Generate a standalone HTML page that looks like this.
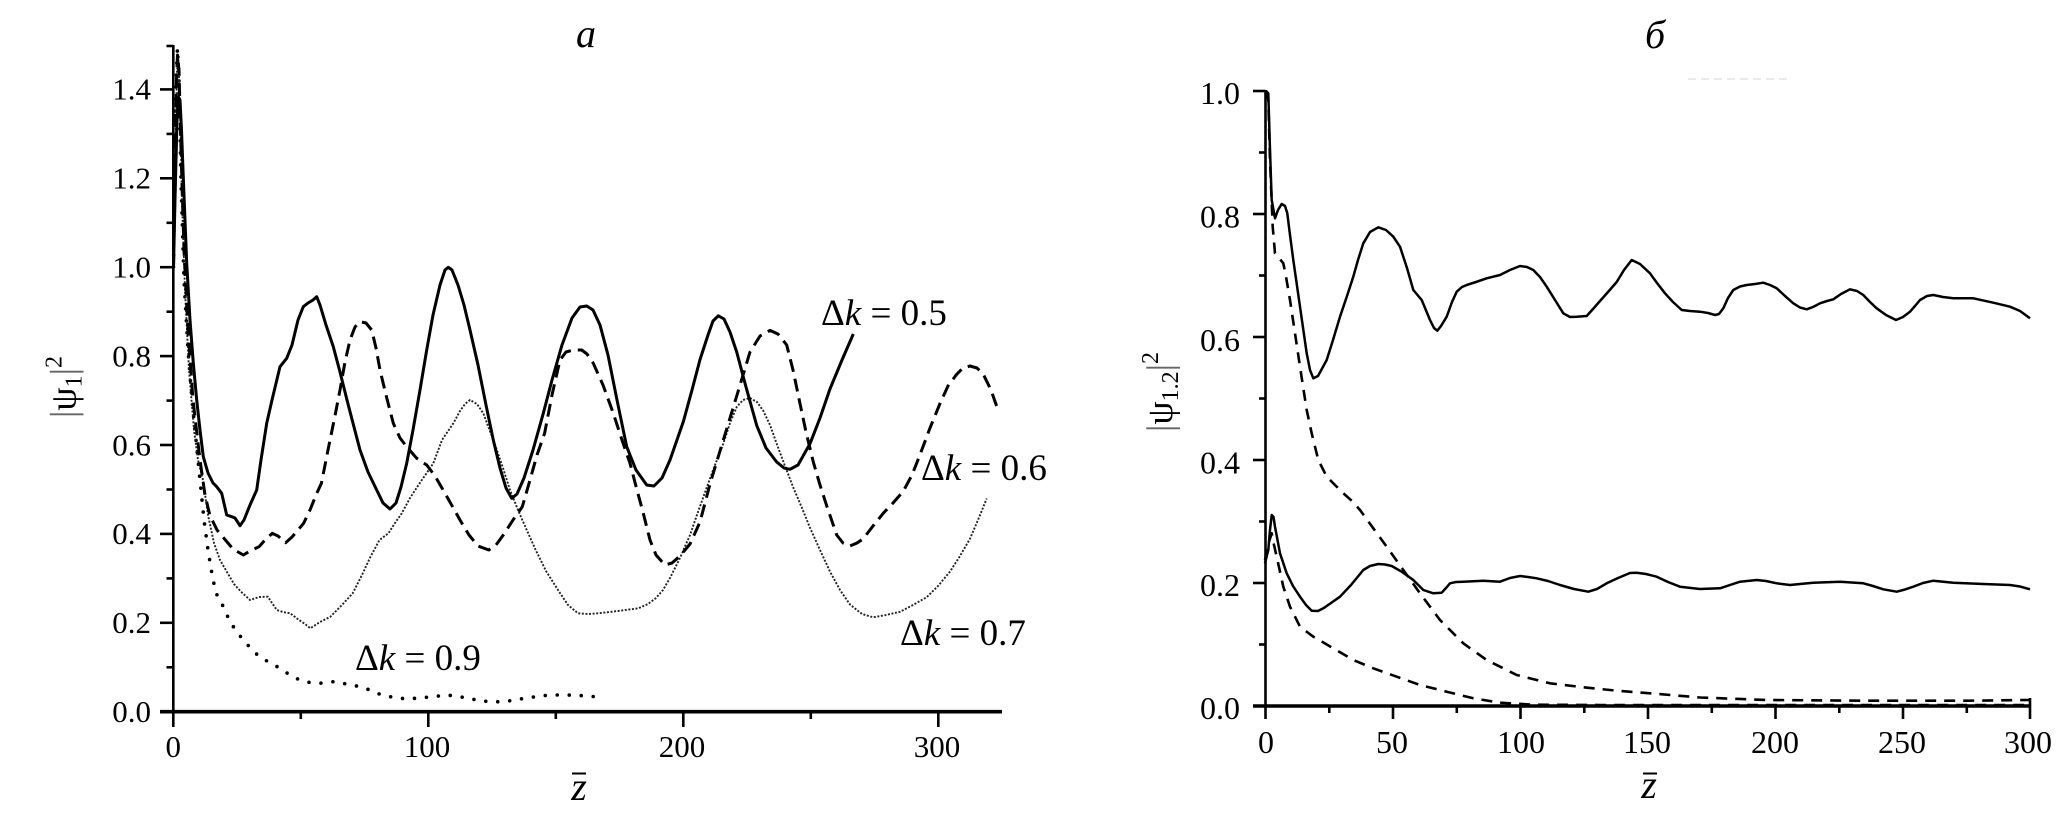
<!DOCTYPE html>
<html>
<head>
<meta charset="utf-8">
<style>
  html, body { margin:0; padding:0; background:#fff; }
  body { width:2068px; height:823px; overflow:hidden; }
  svg { display:block; }
  text { font-family: "Liberation Serif", "DejaVu Serif", serif; fill:#000; }
</style>
</head>
<body>
<svg width="2068" height="823" viewBox="0 0 2068 823" xmlns="http://www.w3.org/2000/svg">
  <rect x="0" y="0" width="2068" height="823" fill="#fff"/>

  <!-- ================= PANEL A ================= -->
  <text x="586" y="47" font-size="40" font-style="italic" text-anchor="middle">а</text>

  <!-- axes -->
  <line x1="173.3" y1="45" x2="173.3" y2="713" stroke="#000" stroke-width="2.6"/>
  <line x1="160" y1="711.7" x2="1002" y2="711.7" stroke="#000" stroke-width="3.6"/>

  <!-- y ticks major -->
  <g stroke="#000" stroke-width="2.6">
    <line x1="160" y1="622.8" x2="173.3" y2="622.8"/>
    <line x1="160" y1="533.9" x2="173.3" y2="533.9"/>
    <line x1="160" y1="445" x2="173.3" y2="445"/>
    <line x1="160" y1="356.1" x2="173.3" y2="356.1"/>
    <line x1="160" y1="267.2" x2="173.3" y2="267.2"/>
    <line x1="160" y1="178.3" x2="173.3" y2="178.3"/>
    <line x1="160" y1="89.4" x2="173.3" y2="89.4"/>
    <!-- minor -->
    <line x1="166.5" y1="667.3" x2="173.3" y2="667.3"/>
    <line x1="166.5" y1="578.4" x2="173.3" y2="578.4"/>
    <line x1="166.5" y1="489.5" x2="173.3" y2="489.5"/>
    <line x1="166.5" y1="400.6" x2="173.3" y2="400.6"/>
    <line x1="166.5" y1="311.7" x2="173.3" y2="311.7"/>
    <line x1="166.5" y1="222.8" x2="173.3" y2="222.8"/>
    <line x1="166.5" y1="133.9" x2="173.3" y2="133.9"/>
    <line x1="166.5" y1="46" x2="173.3" y2="46"/>
    <!-- x ticks -->
    <line x1="173.3" y1="711" x2="173.3" y2="727"/>
    <line x1="428.3" y1="711" x2="428.3" y2="727"/>
    <line x1="683.3" y1="711" x2="683.3" y2="727"/>
    <line x1="938.3" y1="711" x2="938.3" y2="727"/>
    <line x1="300.8" y1="711" x2="300.8" y2="719"/>
    <line x1="555.8" y1="711" x2="555.8" y2="719"/>
    <line x1="810.8" y1="711" x2="810.8" y2="719"/>
  </g>

  <!-- y tick labels -->
  <g font-size="31" text-anchor="end">
    <text x="151" y="722">0.0</text>
    <text x="151" y="633">0.2</text>
    <text x="151" y="544">0.4</text>
    <text x="151" y="455.5">0.6</text>
    <text x="151" y="366.5">0.8</text>
    <text x="151" y="277.5">1.0</text>
    <text x="151" y="188.5">1.2</text>
    <text x="151" y="99.5">1.4</text>
  </g>
  <!-- x tick labels -->
  <g font-size="31" text-anchor="middle">
    <text x="173.3" y="757">0</text>
    <text x="427" y="757">100</text>
    <text x="682" y="757">200</text>
    <text x="937" y="757">300</text>
  </g>

  <!-- axis titles -->
  <text transform="translate(75.5,387) rotate(-90)" font-size="37" text-anchor="middle"><tspan fill="#666">|</tspan>ψ<tspan font-size="24" dy="6">1</tspan><tspan fill="#666" dy="-6">|</tspan><tspan font-size="24" dy="-14">2</tspan></text>
  <text x="579" y="800" font-size="40" font-style="italic" text-anchor="middle">z</text>
  <line x1="572" y1="773.5" x2="586" y2="773.5" stroke="#000" stroke-width="2"/>

  <!-- annotations -->
  <g font-size="37">
    <text x="821" y="325">Δ<tspan font-style="italic">k</tspan> = 0.5</text>
    <text x="921" y="480">Δ<tspan font-style="italic">k</tspan> = 0.6</text>
    <text x="900" y="645">Δ<tspan font-style="italic">k</tspan> = 0.7</text>
    <text x="355" y="670">Δ<tspan font-style="italic">k</tspan> = 0.9</text>
  </g>

  <!-- Δk = 0.9 (dotted, large dots) -->
  <polyline fill="none" stroke="#000" stroke-width="3.6" stroke-linecap="round" stroke-dasharray="0 12"
    points="173.5,267 175,160 176.5,70 177.5,48 179,80 181,180 184,280 188,350 192,400 196,440 200,480 204,520 208,550 213,580 217,595 221.7,603.3 230,621.7 236.7,631.7 243.3,640 251.7,649.3 260,657.3 268.3,661.7 280,668.3 290,675 298.3,679.3 308.3,682.3 320,683.3 333.3,681.7 348.3,684.3 360,686.7 370,690 381.7,695 393.3,697.3 406.7,699 421.7,697.7 433.3,696.7 446.7,695 460,696.7 473.3,699.3 488.3,701.7 504.5,701.7 520,699 535.7,696.7 550,695 567,695 580,695.5 596,696.7"/>

  <!-- Δk = 0.7 (fine dotted) -->
  <polyline fill="none" stroke="#222" stroke-width="1.9" stroke-dasharray="2 1.6" stroke-linejoin="round"
    points="173.5,267 175.5,150 177,70 178.5,60 180,110 182,200 185,290 189,370 194,430 198,460 203,480 208,515 214,543 220,560 227.7,573.3 234,584 241,591.7 250,600 259,597 267.9,596.7 272,603 276.8,610 283,612 290.2,613.3 299,620 305,624 310.3,628.3 320,622 330.4,616.7 341,606 352.7,593.3 362,575 370.5,556.7 379.5,540 388.4,533.3 395,523 401.8,513.3 410,498 419.6,483.3 433.3,463.3 442,440 453.3,423.3 460,411 465,404 470,400 477,404 483.3,413.3 493.3,440 502,465 510,490 518,510 526.7,530 535.7,550 546,571 558,590 568,605 578,613.3 588,614 598.2,613.3 618,611 638.4,608.3 648,604 656,598 663,590 670,578 680,558 690,535 698,512 706.7,487.6 715,465 723.3,443.7 730,423 736.7,407 743,400 750,398 757,402 763.3,410.8 770,425 776.7,443.7 785,466 793.3,487.6 802,508 810,527.8 820,550 830,571.6 840,590 850,604.5 862,614 873.3,617.3 886,615 900,611.8 913,605 926.7,597.2 938,586 950,571.6 960,556 970,538.7 978,520 986.7,498.5"/>

  <!-- Δk = 0.6 (dashed) -->
  <polyline fill="none" stroke="#000" stroke-width="3" stroke-dasharray="13 7" stroke-linejoin="round"
    points="173.5,267 175,180 176.5,80 177.5,55 179,70 181,150 184,250 188,330 193,400 200,460 205,495 209.8,515 217,530 225.4,540 233,549 243.3,555 250,551 259,546.7 265,540 272.3,533.3 278,536 285.7,542.7 292,537 298,530 303.6,523.3 310,510 316,495 321.4,483.3 328,450 334.8,416.7 340,390 345,362 350,340 355,327 360,321.7 366,323 371.7,330 376,348 380,370 386,395 393.3,423.3 400,438 406.7,446.7 416.7,458.3 426.7,465 435,476 446,495 460,520 469,535 478,546 488.8,550 496,545 504.5,533.3 513,520 522.3,506.7 530,480 537,455 544.6,433.3 552,395 560,360 566,352 573.3,350 581.7,350 587,354 593.3,363.3 603,385 613.3,413.3 622,440 630,463.3 637,490 643.3,513.3 650,540 656,555 665,565 672,563 680,556 690,544 700,522 710,484 720,451 736.7,396 750,352 760,336 770,330.4 778,334 786.7,345 793,370 800,403.5 806,432 813.3,462 820,485 826.7,505.8 836.7,535 843,543 850,546 857,543 863.3,538.7 873,526 883.3,513.2 893,503 903.3,491.2 912,475 920,454.7 930,428 940,403.5 948,386 956.7,374.3 963,368 970,366 977,368 983.3,374.3 991,390 998.3,410.8"/>

  <!-- Δk = 0.5 (solid) -->
  <polyline fill="none" stroke="#000" stroke-width="3" stroke-linejoin="round"
    points="173.5,267 175,200 177,120 178.5,97 180,100 181.5,130 183,170 186.7,263 190,320 193.3,363 196.7,400 200,430 203.3,456.7 208,473 213,483 216.7,486.7 221.7,493.3 226.7,515 231.7,516.7 235,518 240,525.7 244,520 250,505 256.7,490 261,460 266.7,423.3 272,400 280,366.7 286.7,358.3 292,345 298,320 303.3,306.7 308,303 313,300 316.7,296.7 320,305 326,325 333.3,346.7 340,372 347,400 354,427 360,450 368,472 376.7,490 383,503 390,509 396,503 401,487 406.7,463.3 413,430 420,390 426.7,350 433,315 440,285 445,270 448.3,267.3 452,270 458,285 464,305 470,330 478,365 486,405 493.3,440 500,468 506,488 511.7,498.3 517,494 524,478 533,450 543.3,413.3 552,380 562,345 572,318 580,307 586.7,306 593,310 600,325 608,355 617,400 626.7,446.7 636,470 646.7,485 654,486 662,478 670,460 683.3,421.8 692,390 700,359.6 708,335 713,321 718.3,315.8 724,319 730,332 736.7,352 746,387 756.7,425.4 766,448 776.7,462 784,468 790,469.3 798,465 810,443.7 820,418 830,388.9 842,360 853.3,334"/>

  <!-- ================= PANEL B ================= -->
  <text x="1655" y="48" font-size="40" font-style="italic" text-anchor="middle">б</text>
  <line x1="1688" y1="79" x2="1788" y2="79" stroke="#e4e4e4" stroke-width="1.5" stroke-dasharray="8 5"/>

  <!-- axes -->
  <line x1="1265.5" y1="90" x2="1265.5" y2="708" stroke="#000" stroke-width="2.6"/>
  <line x1="1253" y1="706" x2="2031" y2="706" stroke="#000" stroke-width="3.6"/>

  <g stroke="#000" stroke-width="2.6">
    <!-- y major -->
    <line x1="1253" y1="91" x2="1265.5" y2="91"/>
    <line x1="1253" y1="214" x2="1265.5" y2="214"/>
    <line x1="1253" y1="337" x2="1265.5" y2="337"/>
    <line x1="1253" y1="460" x2="1265.5" y2="460"/>
    <line x1="1253" y1="583" x2="1265.5" y2="583"/>
    <!-- y minor -->
    <line x1="1259" y1="152.5" x2="1265.5" y2="152.5"/>
    <line x1="1259" y1="275.5" x2="1265.5" y2="275.5"/>
    <line x1="1259" y1="398.5" x2="1265.5" y2="398.5"/>
    <line x1="1259" y1="521.5" x2="1265.5" y2="521.5"/>
    <line x1="1259" y1="644.5" x2="1265.5" y2="644.5"/>
    <!-- x major -->
    <line x1="1265.5" y1="705" x2="1265.5" y2="719"/>
    <line x1="1393" y1="705" x2="1393" y2="719"/>
    <line x1="1520.5" y1="705" x2="1520.5" y2="719"/>
    <line x1="1648" y1="705" x2="1648" y2="719"/>
    <line x1="1775.5" y1="705" x2="1775.5" y2="719"/>
    <line x1="1903" y1="705" x2="1903" y2="719"/>
    <line x1="2030" y1="698" x2="2030" y2="719"/>
    <!-- x minor -->
    <line x1="1329.3" y1="705" x2="1329.3" y2="713"/>
    <line x1="1456.8" y1="705" x2="1456.8" y2="713"/>
    <line x1="1584.3" y1="705" x2="1584.3" y2="713"/>
    <line x1="1711.8" y1="705" x2="1711.8" y2="713"/>
    <line x1="1839.3" y1="705" x2="1839.3" y2="713"/>
    <line x1="1966.8" y1="705" x2="1966.8" y2="713"/>
  </g>

  <g font-size="32" text-anchor="end">
    <text x="1240" y="719">0.0</text>
    <text x="1240" y="596">0.2</text>
    <text x="1240" y="473.5">0.4</text>
    <text x="1240" y="351">0.6</text>
    <text x="1240" y="227.5">0.8</text>
    <text x="1240" y="104">1.0</text>
  </g>
  <g font-size="32" text-anchor="middle">
    <text x="1266" y="753">0</text>
    <text x="1392" y="753">50</text>
    <text x="1521" y="753">100</text>
    <text x="1647" y="753">150</text>
    <text x="1775" y="753">200</text>
    <text x="1902" y="753">250</text>
    <text x="2028" y="753">300</text>
  </g>

  <text transform="translate(1172,392) rotate(-90)" font-size="37" text-anchor="middle"><tspan fill="#666">|</tspan>ψ<tspan font-size="24" dy="6">1.2</tspan><tspan fill="#666" dy="-6">|</tspan><tspan font-size="24" dy="-14">2</tspan></text>
  <text x="1649" y="798" font-size="40" font-style="italic" text-anchor="middle">z</text>
  <line x1="1643" y1="773.5" x2="1657" y2="773.5" stroke="#000" stroke-width="2"/>

  <!-- lower dashed -->
  <polyline fill="none" stroke="#000" stroke-width="2.6" stroke-dasharray="11 8" stroke-linejoin="round"
    points="1265,560 1268,545 1271.7,533.3 1274,545 1276.7,556.7 1283.3,586.7 1290,606.7 1300,626.7 1313.3,636.7 1333.3,648.3 1353.3,660 1373.3,668.3 1396.7,676.7 1420,685 1446.7,691.7 1473.3,698.3 1500,702.7 1533.3,704.7 1600,705 2030,705"/>

  <!-- upper dashed -->
  <polyline fill="none" stroke="#000" stroke-width="2.6" stroke-dasharray="11 8" stroke-linejoin="round"
    points="1266,91 1268.3,100 1270,160 1272.7,226.7 1275,253.3 1279,258 1283.3,263.3 1286,276.7 1290,300 1295,333.3 1300,366.7 1306.7,410 1311.7,433.3 1318.3,460 1326.7,476.7 1335,485 1343.3,493.3 1352,501 1360,510 1373.3,528.3 1386.7,546.7 1403.3,570 1420,593.3 1440,620 1463.3,643.3 1486.7,660 1516.7,675 1550,683.3 1583.3,687.3 1616.7,690.7 1650,693.3 1700,697.5 1766.7,700 1866.7,700.7 1966.7,700.7 2030,700"/>

  <!-- lower solid -->
  <polyline fill="none" stroke="#000" stroke-width="2.5" stroke-linejoin="round"
    points="1265,563.3 1268.3,550 1270,530 1271.7,515 1273.5,517 1275,526.7 1280,553.3 1286.7,573.3 1293,586 1300,596.7 1306,605 1311.7,610.7 1318,611 1323.3,608.3 1331,603 1340,596.7 1351,585 1363.3,570 1370,566 1378.3,564 1385,564.5 1391.7,566 1401.7,571.7 1413.3,580 1423.3,590 1433.3,593.3 1441.7,592.7 1446,588 1450,583.3 1456,582 1463.3,581.7 1483.3,580.7 1500,581.7 1510,578 1520,576 1528,577 1536.7,578.3 1548,581 1560,585 1574,589 1588.3,591.7 1597,589 1606.7,583.3 1618,578 1630,573 1636.7,572.7 1646,574 1656.7,576.7 1668,582 1680,586.7 1700,589 1720,588.3 1730,585 1740,581.7 1756.7,580 1766,581 1776.7,583.3 1790,585 1800,584 1813.3,582.7 1840,581.7 1863.3,583.3 1873,586 1883.3,589.3 1896.7,591.7 1905,589.5 1913.3,586.7 1923,583 1933.3,580.7 1953.3,582.7 1983.3,584 2010,585 2020,586.5 2030,589.3"/>

  <!-- upper solid -->
  <polyline fill="none" stroke="#000" stroke-width="2.5" stroke-linejoin="round"
    points="1266,91 1268.3,93.3 1270,150 1271.7,200 1275,218.3 1278,210 1281.7,204 1285,206 1287.3,213.3 1290,235 1293.3,260 1300,306.7 1306.7,353.3 1310,370 1313.3,378.3 1318,376 1326.7,360 1333,340 1340,316.7 1347,296 1353.3,276.7 1358,260 1363.3,243.3 1370,232 1378.3,227.3 1386,230 1393.3,236.7 1400,246.7 1407,268 1413.3,290 1421.7,300 1430,320 1434,328 1437.3,330.7 1441,326 1446.7,316.7 1452,302 1456.7,291.7 1462,287 1466.7,285 1476,282 1486.7,278.3 1500,275 1510,270 1520,266 1527,267 1533.3,270 1540,277 1546.7,286.7 1555,300 1563.3,313.3 1570,317 1576.7,316.7 1586.7,316 1593,309 1600,301 1608,292 1616.7,282 1624,270 1631.7,260 1640,264 1650,273.3 1657,283 1665,293.3 1673,302 1681.7,310 1690,311 1700,311.7 1708,313 1715,315 1719,314 1723.3,308.3 1728,298 1733.3,290 1740,286.5 1746.7,285 1755,284 1763.3,282.7 1770,285 1776.7,288.3 1785,296 1793.3,303.3 1800,307.5 1806.7,309.3 1813,307 1820,303.3 1827,301 1833.3,299.3 1841,294 1850,289.3 1857,291 1863.3,295 1870,302 1876.7,308.3 1886,315 1896,320 1903,317 1910,311.7 1915,306 1920,300 1927,296 1933.3,295 1943,297 1953.3,298.3 1973.3,298.3 1993.3,302.7 2010,306.7 2020,311 2030,318.3"/>
</svg>
</body>
</html>
